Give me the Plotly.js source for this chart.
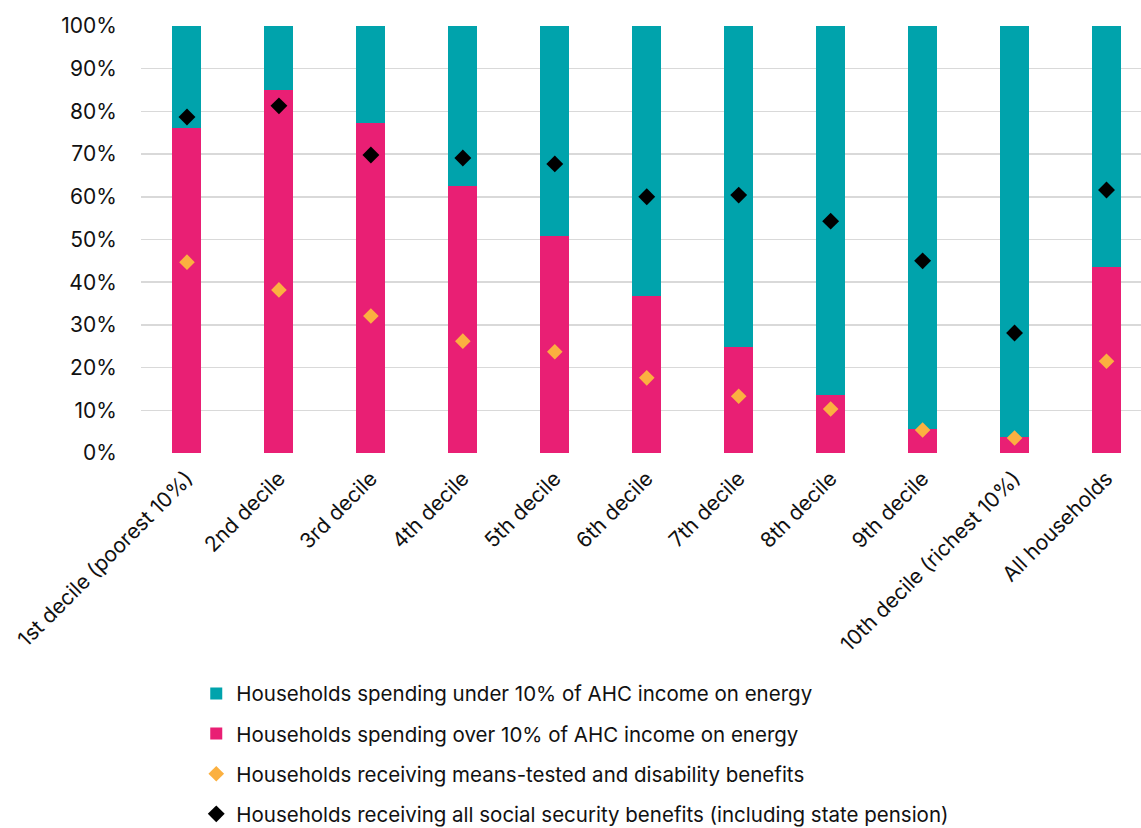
<!DOCTYPE html>
<html>
<head>
<meta charset="utf-8">
<script src="https://cdn.plot.ly/plotly-3.0.1.min.js"></script>
<style>html,body{margin:0;padding:0;overflow:hidden;background:#fff;}</style>
</head>
<body>
<div id="chart" style="width:1141px;height:828px;"></div>
<script>
const categories = ["1st decile (poorest 10%)", "2nd decile", "3rd decile", "4th decile", "5th decile", "6th decile", "7th decile", "8th decile", "9th decile", "10th decile (richest 10%)", "All households"];
const overTen = [76.1, 85.0, 77.3, 62.5, 50.8, 36.8, 24.8, 13.6, 5.6, 3.7, 43.6];
const underTen = overTen.map(v => 100 - v);
const meansTested = [44.7, 38.2, 32.1, 26.2, 23.7, 17.6, 13.3, 10.3, 5.4, 3.5, 21.5];
const allBenefits = [78.7, 81.3, 69.8, 69.1, 67.7, 60.0, 60.4, 54.3, 45.0, 28.1, 61.6];
const yTicks = [0, 10, 20, 30, 40, 50, 60, 70, 80, 90, 100];
const yTickText = yTicks.map(v => v + "%");

const font = "Inter, 'Liberation Sans', Arial, sans-serif";

const traces = [
  {type: "bar", name: "Households spending over 10% of AHC income on energy", x: categories, y: overTen,
   marker: {color: "#E91F74"}, legendrank: 2, legendgroup: "b", hoverinfo: "y"},
  {type: "bar", name: "Households spending under 10% of AHC income on energy", x: categories, y: underTen,
   marker: {color: "#00A3AC"}, legendrank: 1, legendgroup: "a", hoverinfo: "y"},
  {type: "scatter", mode: "markers", name: "Households receiving means-tested and disability benefits", x: categories, y: meansTested,
   marker: {symbol: "diamond", color: "#FBB040", size: 12}, legendrank: 3, legendgroup: "c"},
  {type: "scatter", mode: "markers", name: "Households receiving all social security benefits (including state pension)", x: categories, y: allBenefits,
   marker: {symbol: "diamond", color: "#000000", size: 13}, legendrank: 4, legendgroup: "d"}
];

const layout = {
  width: 1141, height: 828,
  margin: {l: 140.5, r: 0, t: 26, b: 375, pad: 0, autoexpand: false},
  paper_bgcolor: "#fff", plot_bgcolor: "#fff",
  font: {family: font, size: 20, color: "#111"},
  barmode: "stack",
  bargap: 0.685,
  showlegend: true,
  legend: {xref: "container", x: 0.172, xanchor: "left", yref: "container", y: 0.1865, yanchor: "top", orientation: "v",
           traceorder: "grouped", tracegroupgap: 10.5, font: {family: font, size: 20.5, color: "#111"},
           bgcolor: "rgba(0,0,0,0)"},
  xaxis: {type: "category", range: [-0.5, 10.375], tickangle: -45, showgrid: false, zeroline: false,
          showline: false, ticks: "outside", ticklen: 4, tickcolor: "rgba(0,0,0,0)",
          tickfont: {family: font, size: 21, color: "#111"}, fixedrange: true},
  yaxis: {range: [0, 100], tickvals: yTicks, ticktext: yTickText, showgrid: true, gridcolor: "#D9D9D9",
          gridwidth: 1.5, zeroline: false, showline: false, ticks: "outside", ticklen: 19,
          tickcolor: "rgba(0,0,0,0)", tickfont: {family: font, size: 21, color: "#111"}, fixedrange: true}
};

Plotly.newPlot("chart", traces, layout, {displayModeBar: false, staticPlot: true});
</script>
</body>
</html>
